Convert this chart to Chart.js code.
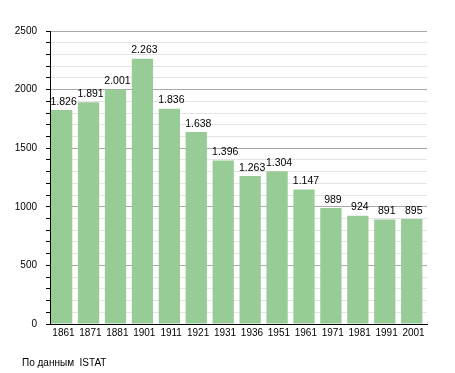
<!DOCTYPE html>
<html lang="ru">
<head>
  <meta charset="UTF-8" />
  <title>Население</title>
  <script src="https://cdn.jsdelivr.net/npm/chart.js"></script>
  <style>
    html, body { margin: 0; padding: 0; background: #fff; }
    #wrap { width: 455px; height: 373px; position: relative; }
  </style>
</head>
<body>
  <div id="wrap"><canvas id="chart"></canvas></div>

  <script>
    const years = ['1861', '1871', '1881', '1901', '1911', '1921', '1931', '1936', '1951', '1961', '1971', '1981', '1991', '2001'];
    const population = [1826, 1891, 2001, 2263, 1836, 1638, 1396, 1263, 1304, 1147, 989, 924, 891, 895];
    const sourceNote = 'По данным  ISTAT';

    const FONT = "'Liberation Sans', Arial, sans-serif";
    const BAR_PCT = 0.79;

    // точка как разделитель тысяч (итальянский формат)
    function fmt(v) {
      return String(v).replace(/\B(?=(\d{3})+(?!\d))/g, '.');
    }

    // столбцы прижаты к левой оси, как в оригинале
    const shiftPlugin = {
      id: 'shiftBars',
      afterDatasetsUpdate(chart) {
        const meta = chart.getDatasetMeta(0);
        const slot = chart.chartArea.width / years.length;
        const dx = slot * (1 - BAR_PCT) / 2 - 1;
        meta.data.forEach(bar => { bar.x -= dx; });
      }
    };

    const labelsPlugin = {
      id: 'valueLabels',
      afterDatasetsDraw(chart) {
        const ctx = chart.ctx;
        const meta = chart.getDatasetMeta(0);
        ctx.save();
        ctx.font = '10.5px ' + FONT;
        ctx.fillStyle = '#000';
        ctx.textAlign = 'center';
        ctx.textBaseline = 'bottom';
        meta.data.forEach((bar, i) => {
          ctx.fillText(fmt(population[i]), bar.x + 2, bar.y - 3);
        });
        ctx.font = '10px ' + FONT;
        ctx.textAlign = 'left';
        ctx.textBaseline = 'middle';
        ctx.fillText(sourceNote, 22, 363);
        ctx.restore();
      }
    };

    new Chart(document.getElementById('chart'), {
      type: 'bar',
      data: {
        labels: years,
        datasets: [{
          data: population,
          backgroundColor: '#98cc96',
          borderWidth: 0,
          categoryPercentage: 1,
          barPercentage: BAR_PCT
        }]
      },
      options: {
        responsive: true,
        maintainAspectRatio: false,
        animation: false,
        layout: { padding: { top: 31, right: 28, left: 0, bottom: 0 } },
        plugins: { legend: { display: false }, tooltip: { enabled: false } },
        scales: {
          x: {
            grid: { display: false, drawTicks: false },
            border: { color: '#000', width: 1 },
            ticks: { color: '#000', font: { family: FONT, size: 10 }, padding: 3, maxRotation: 0, autoSkip: false },
            afterFit(scale) { scale.height = 49; }
          },
          y: {
            min: 0,
            max: 2500,
            grid: {
              color: c => (c.tick.value % 500 === 0 ? '#a8a8a8' : '#e4e4e4'),
              tickColor: '#000',
              tickLength: 4
            },
            border: { color: '#000', width: 1 },
            ticks: {
              stepSize: 100,
              autoSkip: false,
              color: '#000',
              font: { family: FONT, size: 10 },
              padding: 9,
              callback: v => (v % 500 === 0 ? v : '')
            },
            afterFit(scale) { scale.width = 50; }
          }
        }
      },
      plugins: [shiftPlugin, labelsPlugin]
    });
  </script>
</body>
</html>
